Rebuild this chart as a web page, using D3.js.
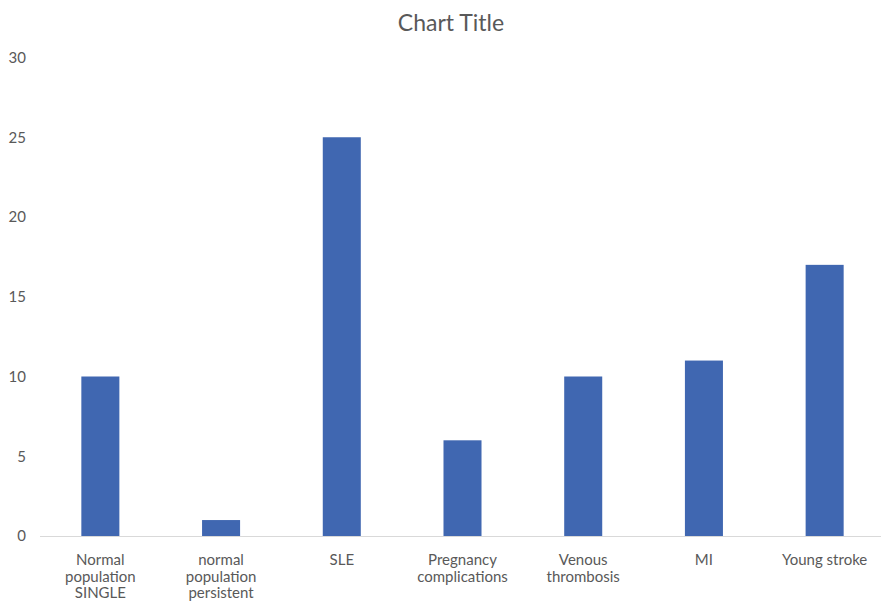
<!DOCTYPE html>
<html>
<head>
<meta charset="utf-8">
<script src="https://cdn.jsdelivr.net/npm/d3@7"></script>
<style>
  body { margin: 0; background: #fff; }
  text { font-family: Lato, "Open Sans", sans-serif; fill: #595959; }
</style>
</head>
<body>
<svg id="chart" width="881" height="605"></svg>
<script>
// categories (multi-line labels) and values
var categories = [
    ["Normal", "population", "SINGLE"],
    ["normal", "population", "persistent"],
    ["SLE"],
    ["Pregnancy", "complications"],
    ["Venous", "thrombosis"],
    ["MI"],
    ["Young stroke"]
];
var values = [10, 1, 25, 6, 10, 11, 17];
var yTicks = [0, 5, 10, 15, 20, 25, 30];

var svg = d3.select("#chart"),
    plotLeft = 40, plotRight = 885, plotTop = 57.5, plotBottom = 536;

var x = d3.scaleBand()
    .domain(d3.range(categories.length))
    .range([plotLeft, plotRight])
    .paddingInner(0.685)
    .paddingOuter(0.3425);

var y = d3.scaleLinear()
    .domain([0, 30])
    .range([plotBottom, plotTop]);

// title
svg.append("text")
    .attr("x", 451)
    .attr("y", 31)
    .attr("text-anchor", "middle")
    .style("font-size", "23px")
    .text("Chart Title");

// y labels
svg.append("g")
    .selectAll("text")
    .data(yTicks)
    .enter().append("text")
    .attr("x", 26)
    .attr("y", function(d) { return y(d); })
    .attr("dy", "0.35em")
    .attr("text-anchor", "end")
    .style("font-size", "15px")
    .text(function(d) { return d; });

// bars
svg.append("g")
    .selectAll("rect")
    .data(values)
    .enter().append("rect")
    .attr("x", function(d, i) { return x(i); })
    .attr("width", x.bandwidth())
    .attr("y", function(d) { return y(d); })
    .attr("height", function(d) { return y(0) - y(d); })
    .attr("fill", "#4067b1");

// x axis line
svg.append("line")
    .attr("x1", plotLeft).attr("x2", 881)
    .attr("y1", y(0) + 0.5).attr("y2", y(0) + 0.5)
    .attr("stroke", "#d9d9d9")
    .attr("stroke-width", 1);

// x labels
var lab = svg.append("g")
    .selectAll("text")
    .data(categories)
    .enter().append("text")
    .attr("text-anchor", "middle")
    .style("font-size", "15px")
    .attr("transform", function(d, i) {
        return "translate(" + (x(i) + x.bandwidth() / 2) + "," + 565 + ")";
    });

lab.selectAll("tspan")
    .data(function(d) { return d; })
    .enter().append("tspan")
    .attr("x", 0)
    .attr("y", function(d, j) { return j * 16.5; })
    .text(function(d) { return d; });
</script>
</body>
</html>
